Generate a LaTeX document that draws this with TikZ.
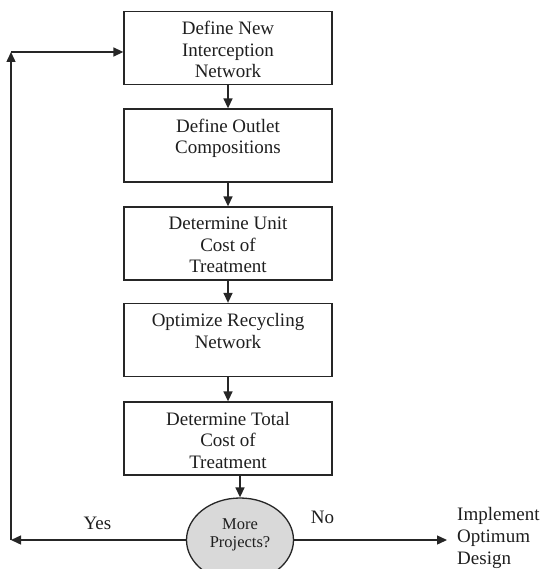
\documentclass[tikz,border=0pt]{standalone}
\usepackage{fontspec}
\setmainfont{Liberation Serif}
\usetikzlibrary{arrows.meta,shapes.geometric}
\definecolor{ink}{HTML}{262626}
\definecolor{txt}{HTML}{1E1E1E}
\definecolor{decfill}{HTML}{D9D9D9}
\tikzset{
  stepbox/.style={draw=ink, line width=1.3pt, minimum width=208pt, minimum height=73pt, inner sep=0pt},
  boxtext/.style={anchor=north, align=center, inner sep=0pt, text=txt, font=\fontsize{19}{21.5}\selectfont},
  decision/.style={ellipse, draw=ink, line width=1.3pt, fill=decfill, minimum width=107pt, minimum height=84pt, inner sep=0pt},
  dectext/.style={align=center, inner sep=0pt, text=txt, font=\fontsize{16.5}{18}\selectfont},
  tag/.style={inner sep=0pt, text=txt, font=\fontsize{19}{22}\selectfont},
  arr/.style={draw=ink, line width=1.4pt, -{Triangle[length=10pt,width=9pt]}}
}
\begin{document}
\begin{tikzpicture}[x=1pt,y=1pt]
\useasboundingbox (0,0) rectangle (539,-569);

% process steps
\node[stepbox] (b1) at (228,-48)    {};
\node[stepbox] (b2) at (228,-145.5) {};
\node[stepbox] (b3) at (228,-243.5) {};
\node[stepbox] (b4) at (228,-340)   {};
\node[stepbox] (b5) at (228,-438.5) {};

\node[boxtext] (t1) at ([yshift=-10.5pt]b1.north) {Define New\\Interception\\Network};
\node[boxtext] (t2) at ([yshift=-10.5pt]b2.north) {Define Outlet\\Compositions};
\node[boxtext] (t3) at ([yshift=-10.5pt]b3.north) {Determine Unit\\Cost of\\Treatment};
\node[boxtext] (t4) at ([yshift=-10.5pt]b4.north) {Optimize Recycling\\Network};
\node[boxtext] (t5) at ([yshift=-10.5pt]b5.north) {Determine Total\\Cost of\\Treatment};

% decision
\node[decision] (dec) at (240,-540) {};
\node[dectext] (dect) at ([yshift=5pt]dec.center) {More\\Projects?};

% outcome
\node[tag, align=left, anchor=west, inner xsep=10pt] (out) at (447,-538) {Implement\\Optimum\\Design};
\node[tag] (yes) at (97.5,-523) {Yes};
\node[tag] (no) at (322.5,-517) {No};

% loop-back corners
\coordinate (cbl) at (11,-540);
\coordinate (ctl) at (11,-52);

% connectors
\draw[arr] (b1) -- (b2);
\draw[arr] (b2) -- (b3);
\draw[arr] (b3) -- (b4);
\draw[arr] (b4) -- (b5);
\draw[arr] (dec.north |- b5.south) -- (dec.north);
\draw[arr] (dec.east) -- (dec.east -| out.west);
\draw[arr] (dec.west) -- (cbl);
\draw[arr] (cbl) -- (ctl);
\draw[arr] (ctl) -- (ctl -| b1.west);
\end{tikzpicture}
\end{document}
